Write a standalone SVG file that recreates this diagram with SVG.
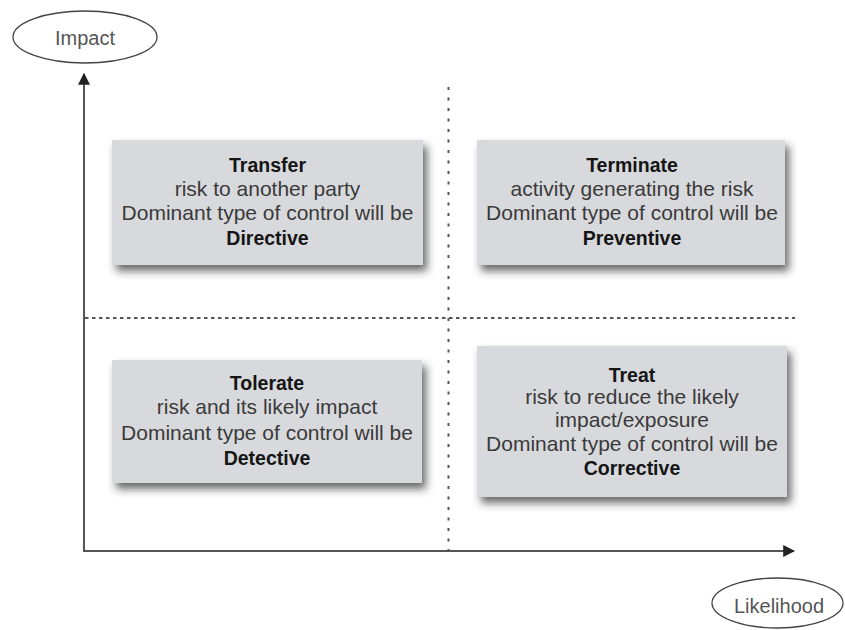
<svg xmlns="http://www.w3.org/2000/svg" width="845" height="630" viewBox="0 0 845 630">
<style>
.box{fill:#d8d9dc;filter:url(#sh)}
.t{font-family:"Liberation Sans",Arial,sans-serif;font-size:21px;fill:#3a3a3a;text-anchor:middle}
.b{font-weight:bold;font-size:19.5px;fill:#151515}
.lbl{font-family:"Liberation Sans",Arial,sans-serif;font-size:20px;fill:#555;text-anchor:middle}
.ell{fill:#fff;stroke:#444;stroke-width:1.3}
.axis{stroke:#555;stroke-width:2;fill:none}
</style>
<defs>
<filter id="sh" x="-10%" y="-10%" width="125%" height="135%">
<feDropShadow dx="4" dy="6" stdDeviation="4.5" flood-color="#2a2a2a" flood-opacity="0.7"/>
</filter>
<marker id="ah" viewBox="0 0 10 10" refX="9" refY="5" markerWidth="6" markerHeight="6" orient="auto" markerUnits="strokeWidth">
<path d="M0,0 L10,5 L0,10 z" fill="#222"/>
</marker>
</defs>
<rect width="845" height="630" fill="#fff"/>
<g id="connectors">
<line class="axis" x1="84" y1="551" x2="84" y2="74" marker-end="url(#ah)"/>
<line class="axis" x1="83" y1="551" x2="794" y2="551" marker-end="url(#ah)"/>
<line x1="448.5" y1="87" x2="448.5" y2="550" stroke="#555" stroke-width="2" stroke-dasharray="3 7.5"/>
<line x1="85" y1="318" x2="795" y2="318" stroke="#555" stroke-width="2" stroke-dasharray="3.5 3.5"/>
</g>
<g id="impact">
<ellipse class="ell" cx="85" cy="37" rx="72" ry="26"/>
<text class="lbl" x="85" y="45">Impact</text>
</g>
<g id="likelihood">
<ellipse class="ell" cx="777.5" cy="603" rx="65.5" ry="25"/>
<text class="lbl" x="779" y="613">Likelihood</text>
</g>
<g id="transfer">
<rect class="box" x="112" y="140" width="311" height="125"/>
<text class="t b" x="267.5" y="172">Transfer</text>
<text class="t" x="267.5" y="196">risk to another party</text>
<text class="t" x="267.5" y="220">Dominant type of control will be</text>
<text class="t b" x="267.5" y="245">Directive</text>
</g>
<g id="terminate">
<rect class="box" x="477" y="140" width="308" height="125"/>
<text class="t b" x="632" y="172">Terminate</text>
<text class="t" x="632" y="196">activity generating the risk</text>
<text class="t" x="632" y="220">Dominant type of control will be</text>
<text class="t b" x="632" y="245">Preventive</text>
</g>
<g id="tolerate">
<rect class="box" x="112" y="360" width="310" height="123"/>
<text class="t b" x="267" y="390">Tolerate</text>
<text class="t" x="267" y="414">risk and its likely impact</text>
<text class="t" x="267" y="440">Dominant type of control will be</text>
<text class="t b" x="267" y="465">Detective</text>
</g>
<g id="treat">
<rect class="box" x="477" y="346" width="310" height="151"/>
<text class="t b" x="632" y="382">Treat</text>
<text class="t" x="632" y="404">risk to reduce the likely</text>
<text class="t" x="632" y="427">impact/exposure</text>
<text class="t" x="632" y="451">Dominant type of control will be</text>
<text class="t b" x="632" y="475">Corrective</text>
</g>
</svg>
